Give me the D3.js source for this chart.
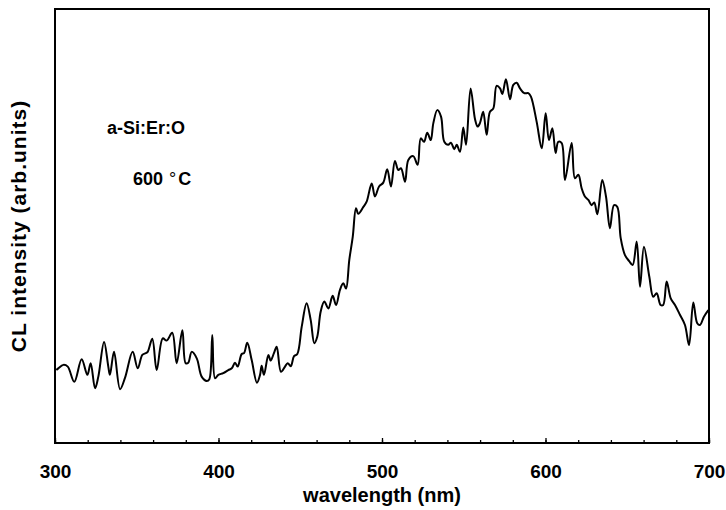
<!DOCTYPE html>
<html>
<head>
<meta charset="utf-8">
<script src="https://cdn.jsdelivr.net/npm/d3@7"></script>
<style>
  body { margin: 0; background: #fff; }
  text { font-family: "Liberation Sans", Arial, sans-serif; font-weight: bold; fill: #000; }
</style>
</head>
<body>
<svg id="chart" width="726" height="510"></svg>
<script>
// spectrum: wavelength (nm) and intensity (arb. units, 0-100 = plot height)
const wavelength = [300.8, 302.0, 305.1, 307.8, 311.8, 316.3, 319.8, 321.8, 324.5, 326.5, 330.0,
  332.6, 333.6, 336.1, 339.8, 342.8, 347.5, 350.6, 353.4, 355.5, 356.7, 359.5, 362.2, 365.9,
  368.3, 371.7, 374.4, 377.9, 379.9, 381.5, 383.6, 386.7, 389.7, 392.8, 394.4, 396.2, 397.9,
  399.9, 402.9, 406.0, 408.1, 410.1, 411.7, 414.2, 415.6, 417.6, 420.3, 423.5, 425.4, 426.4,
  427.8, 430.5, 431.9, 433.9, 435.6, 438.2, 440.7, 442.3, 444.2, 446.2, 448.2, 450.9, 453.9,
  456.4, 458.6, 460.4, 462.5, 464.7, 467.2, 469.8, 471.9, 474.3, 476.3, 478.0, 480.0, 482.1,
  484.1, 485.5, 488.6, 490.6, 493.7, 495.7, 498.2, 500.8, 503.2, 505.5, 507.9, 510.0, 511.6,
  514.1, 516.1, 519.1, 521.8, 523.7, 525.7, 527.7, 529.8, 531.4, 533.8, 536.1, 538.1, 540.5,
  542.2, 544.2, 545.7, 547.7, 549.7, 551.4, 554.2, 556.9, 558.5, 559.9, 561.9, 564.0, 566.0,
  568.1, 570.1, 572.2, 573.6, 575.8, 578.3, 580.3, 582.4, 584.4, 587.0, 589.5, 591.1, 594.6,
  597.7, 600.1, 602.1, 604.2, 606.2, 607.8, 609.9, 611.9, 616.0, 618.0, 620.1, 622.1, 624.1,
  626.2, 628.2, 629.8, 631.7, 634.7, 637.0, 639.4, 641.9, 643.9, 646.0, 648.6, 651.2, 653.3,
  655.8, 657.8, 660.2, 663.5, 665.9, 668.0, 670.4, 672.0, 674.1, 676.6, 679.2, 682.3, 685.3,
  687.8, 690.4, 692.8, 694.5, 696.9, 699.6];
const intensity = [16.8, 17.2, 18.0, 17.6, 14.1, 19.3, 15.7, 18.4, 12.6, 15.3, 23.3,
  17.6, 15.7, 21.0, 12.4, 15.0, 21.0, 17.2, 20.3, 20.7, 21.0, 24.0, 16.8, 24.1,
  23.6, 25.4, 18.4, 26.0, 18.4, 18.5, 21.0, 19.5, 15.3, 14.3, 14.7, 24.9, 14.9,
  15.7, 16.1, 16.8, 17.2, 18.5, 17.6, 20.5, 20.7, 23.1, 19.1, 13.9, 15.7, 17.8,
  15.7, 20.3, 19.0, 20.7, 22.2, 16.4, 17.6, 18.4, 17.7, 20.0, 20.5, 26.8, 32.2,
  28.3, 23.0, 24.5, 30.3, 32.6, 31.0, 33.9, 31.8, 35.3, 36.8, 35.6, 42.2, 47.5,
  54.1, 52.8, 54.4, 55.6, 59.8, 56.8, 59.1, 60.0, 63.1, 59.1, 65.0, 62.9, 63.3,
  60.2, 65.2, 66.1, 64.1, 70.2, 69.4, 71.5, 69.8, 73.7, 76.7, 75.2, 69.4, 68.7,
  69.2, 67.7, 68.7, 67.1, 72.7, 68.7, 81.7, 74.6, 72.9, 73.7, 76.3, 71.0, 76.3,
  77.1, 82.3, 81.7, 80.4, 83.8, 79.2, 82.5, 83.0, 81.7, 80.6, 80.6, 79.8, 74.0,
  67.9, 76.0, 69.8, 72.5, 66.8, 69.4, 69.1, 60.6, 69.1, 61.0, 61.8, 58.7, 56.8,
  56.0, 54.8, 55.4, 52.7, 60.6, 56.8, 49.5, 54.8, 54.4, 47.2, 43.3, 41.9, 41.0,
  46.4, 36.0, 45.2, 38.3, 33.7, 34.5, 31.8, 31.8, 37.2, 33.3, 31.8, 29.5, 27.2,
  22.6, 32.4, 27.6, 27.2, 29.1, 30.6];
const majorTicks = [300, 400, 500, 600, 700];
const minorTicks = d3.range(300, 701, 20);
const sampleLabel = "a-Si:Er:O";
const tempValue = "600";
const tempUnit = "C";
const xTitle = "wavelength (nm)";
const yTitle = "CL intensity (arb.units)";

const svg = d3.select("#chart");
const margin = { top: 9, right: 17, bottom: 67, left: 55 };
const width = 726 - margin.left - margin.right;
const height = 510 - margin.top - margin.bottom;

const x = d3.scaleLinear().domain([300, 700]).range([0, width]);
const y = d3.scaleLinear().domain([0, 100]).range([height, 0]);

const g = svg.append("g")
  .attr("transform", "translate(" + margin.left + "," + margin.top + ")");

// minor ticks, pointing inward
g.append("g")
  .attr("transform", "translate(0," + height + ")")
  .call(d3.axisTop(x).tickValues(minorTicks).tickSize(3).tickFormat(""))
  .call(a => a.select(".domain").remove())
  .call(a => a.selectAll("line").attr("stroke-width", 1.3));

// major ticks + labels
const xAxis = g.append("g")
  .attr("transform", "translate(0," + height + ")")
  .call(d3.axisTop(x).tickValues(majorTicks).tickSize(5).tickFormat(d3.format("d")));
xAxis.select(".domain").remove();
xAxis.selectAll("line").attr("stroke-width", 1.3);
xAxis.selectAll("text")
  .attr("y", 35)
  .attr("dy", 0)
  .style("font-size", "19px");

// frame
g.append("rect")
  .attr("width", width)
  .attr("height", height)
  .attr("fill", "none")
  .attr("stroke", "#000")
  .attr("stroke-width", 2);

const line = d3.line()
  .x((d, i) => x(wavelength[i]))
  .y(d => y(d))
  .curve(d3.curveCatmullRom.alpha(0.5));

g.append("path")
  .datum(intensity)
  .attr("d", line)
  .attr("fill", "none")
  .attr("stroke", "#000")
  .attr("stroke-width", 2)
  .attr("stroke-linejoin", "round");

g.append("text")
  .attr("x", 52)
  .attr("y", 125)
  .style("font-size", "18px")
  .text(sampleLabel);

const temp = g.append("text")
  .attr("x", 78)
  .attr("y", 176)
  .style("font-size", "18px");
temp.append("tspan").text(tempValue);
temp.append("tspan").attr("dx", 6).style("font-weight", "normal").text("\u00B0");
temp.append("tspan").attr("dx", 2).text(tempUnit);

svg.append("text")
  .attr("x", margin.left + width / 2)
  .attr("y", 502)
  .attr("text-anchor", "middle")
  .style("font-size", "20px")
  .text(xTitle);

svg.append("text")
  .attr("transform", "translate(26," + (margin.top + height / 2) + ") rotate(-90)")
  .attr("text-anchor", "middle")
  .style("font-size", "21px")
  .style("letter-spacing", "1px")
  .text(yTitle);
</script>
</body>
</html>
